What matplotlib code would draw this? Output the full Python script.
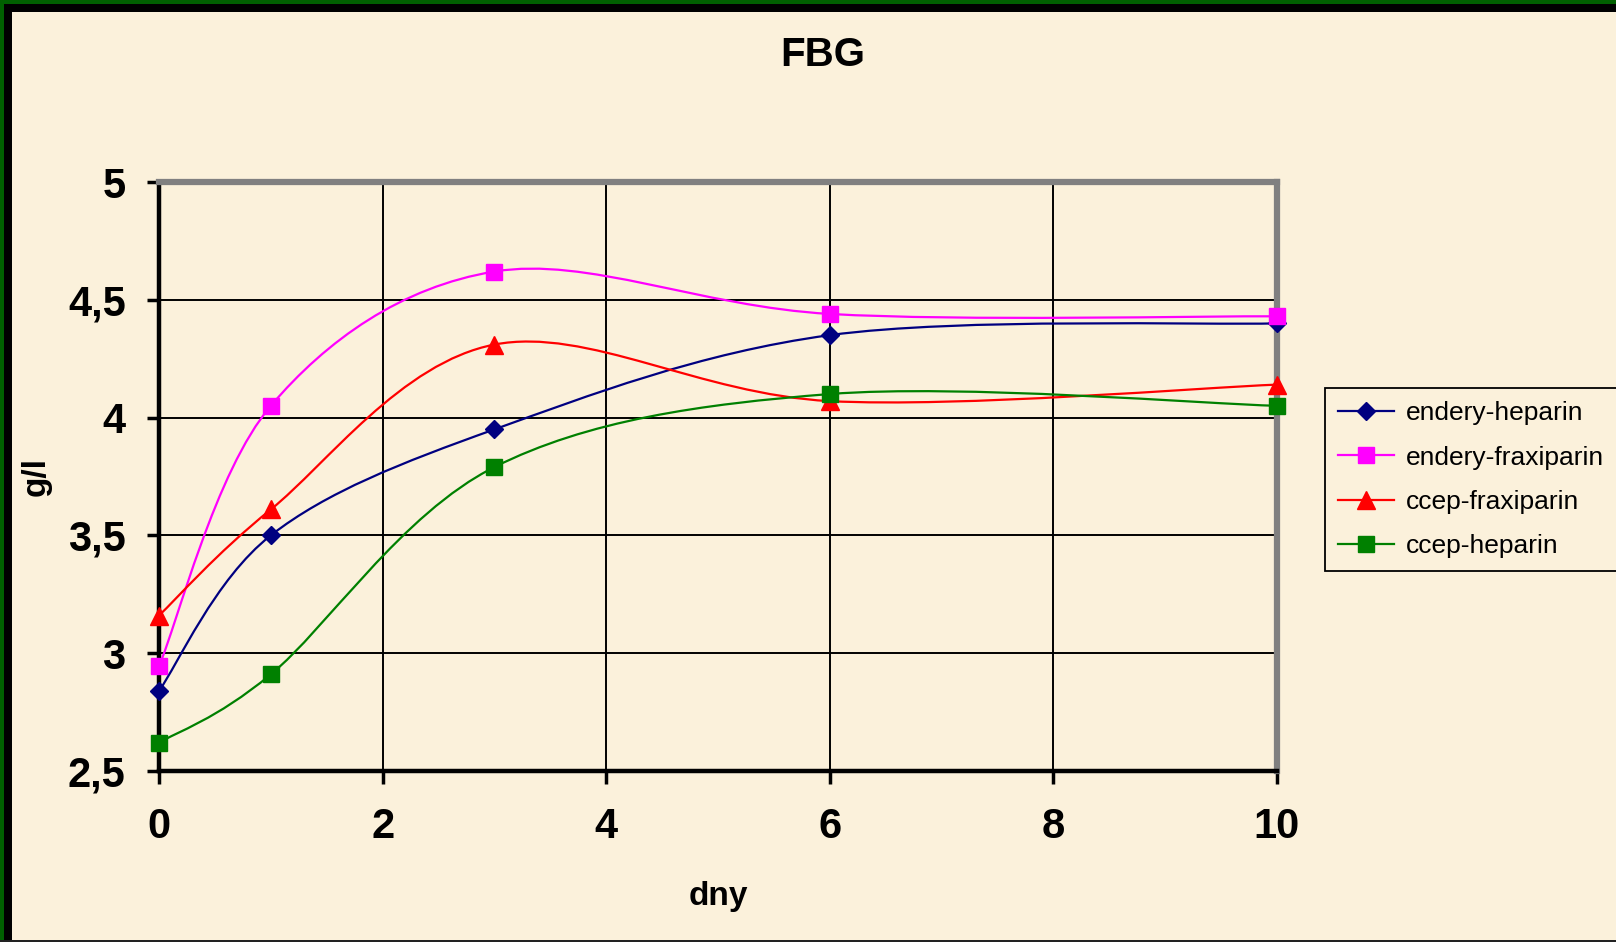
import matplotlib
matplotlib.use("Agg")
import matplotlib.pyplot as plt
from matplotlib.path import Path
from matplotlib.patches import PathPatch, Rectangle
from matplotlib.lines import Line2D
import numpy as np

plt.rcParams['font.family'] = ['Liberation Sans', 'DejaVu Sans']

# ---- data ----
days = [0, 1, 3, 6, 10]
endery_heparin = [2.84, 3.50, 3.95, 4.35, 4.40]
endery_fraxiparin = [2.945, 4.05, 4.62, 4.44, 4.43]
ccep_fraxiparin = [3.16, 3.61, 4.31, 4.07, 4.14]
ccep_heparin = [2.62, 2.91, 3.79, 4.10, 4.05]

series_names = ["endery-heparin", "endery-fraxiparin", "ccep-fraxiparin", "ccep-heparin"]
series_values = [endery_heparin, endery_fraxiparin, ccep_fraxiparin, ccep_heparin]
colors = ["#000080", "#FF00FF", "#FF0000", "#008000"]
markers = ["D", "s", "^", "s"]
msizes = [9, 11.5, 12.5, 11.5]

x_ticks = [0, 2, 4, 6, 8, 10]
y_ticks = [2.5, 3, 3.5, 4, 4.5, 5]
y_tick_labels = ["2,5", "3", "3,5", "4", "4,5", "5"]

title = "FBG"
x_label = "dny"
y_label = "g/l"

BG = "#FBF1DB"

W, H = 1616, 942
fig = plt.figure(figsize=(W / 100, H / 100), dpi=100, facecolor=BG)
ax = fig.add_axes([159 / W, 1 - 771 / H, (1277 - 159) / W, (771 - 182) / H])
ax.set_facecolor("none")


def smooth_path(xs, ys):
    pts = np.column_stack([xs, ys]).astype(float)
    n = len(pts)
    verts = [pts[0]]
    codes = [Path.MOVETO]
    for i in range(n - 1):
        p_prev = pts[i - 1] if i > 0 else pts[i]
        p0 = pts[i]
        p1 = pts[i + 1]
        p_next = pts[i + 2] if i + 2 < n else pts[i + 1]
        c1 = p0 + (p1 - p_prev) / 6.0
        c2 = p1 - (p_next - p0) / 6.0
        verts += [c1, c2, p1]
        codes += [Path.CURVE4] * 3
    return Path(verts, codes)


handles = []
for name, vals, c, m, ms in zip(series_names, series_values, colors, markers, msizes):
    patch = PathPatch(smooth_path(days, vals), facecolor="none", edgecolor=c, lw=1.6, zorder=3)
    ax.add_patch(patch)
    ax.plot(days, vals, linestyle="none", marker=m, markersize=ms, color=c,
            markeredgecolor=c, zorder=4, clip_on=False)
    handles.append(Line2D([], [], color=c, lw=1.6, marker=m, markersize=ms,
                          markeredgecolor=c, label=name))

ax.set_xlim(0, 10)
ax.set_ylim(2.5, 5)
ax.set_xticks(x_ticks)
ax.set_yticks(y_ticks)
ax.set_yticklabels(y_tick_labels)
ax.grid(True, color="black", lw=1.4, zorder=1)
ax.set_axisbelow(True)

for s in ax.spines.values():
    s.set_color("#808080")
    s.set_linewidth(4.5)
    s.set_zorder(2)
ax.spines["left"].set_color("black")
ax.spines["left"].set_linewidth(3.2)
ax.spines["bottom"].set_color("black")
ax.spines["bottom"].set_linewidth(3.2)

ax.tick_params(axis="both", direction="out", length=9, width=2.5, color="black",
               labelsize=30)
ax.tick_params(axis="x", pad=17)
ax.tick_params(axis="y", pad=15)
for lab in ax.get_xticklabels() + ax.get_yticklabels():
    lab.set_fontweight("bold")

ax.set_xlabel(x_label, fontsize=24, fontweight="bold")
ax.xaxis.set_label_coords(0.5, 1 - (896 - 182) / (771 - 182), transform=ax.transAxes)
ax.xaxis.label.set_va("center")
fig.text(36 / W, 1 - 477 / H, y_label, rotation=90, fontsize=24, fontweight="bold",
         ha="center", va="center")

fig.text(823 / W, 1 - 55 / H, title, fontsize=29, fontweight="bold", ha="center", va="center")

leg = fig.legend(handles=handles, loc="upper left", bbox_to_anchor=(1325 / W, 1 - 388 / H),
                 bbox_transform=fig.transFigure, borderaxespad=0, fontsize=19,
                 frameon=True, fancybox=False, edgecolor="black", facecolor=BG,
                 handlelength=2.1, handletextpad=0.45, labelspacing=0.77, borderpad=0.5)
leg.get_frame().set_linewidth(1.3)
leg.get_frame().set_alpha(None)

# figure border (left and top: green outside, black inside; thin line at bottom)
fig.patches.append(Rectangle((0, 0), 4 / W, 1, transform=fig.transFigure,
                             facecolor="#006000", edgecolor="none", zorder=10))
fig.patches.append(Rectangle((4 / W, 0), 8 / W, 1 - 4 / H, transform=fig.transFigure,
                             facecolor="black", edgecolor="none", zorder=10))
fig.patches.append(Rectangle((0, 1 - 4 / H), 1, 4 / H, transform=fig.transFigure,
                             facecolor="#006000", edgecolor="none", zorder=10))
fig.patches.append(Rectangle((4 / W, 1 - 12 / H), 1, 8 / H, transform=fig.transFigure,
                             facecolor="black", edgecolor="none", zorder=10))
fig.patches.append(Rectangle((0, 0), 1, 2 / H, transform=fig.transFigure,
                             facecolor="#222222", edgecolor="none", zorder=10))

fig.savefig("out.png", dpi=100, facecolor=BG)
